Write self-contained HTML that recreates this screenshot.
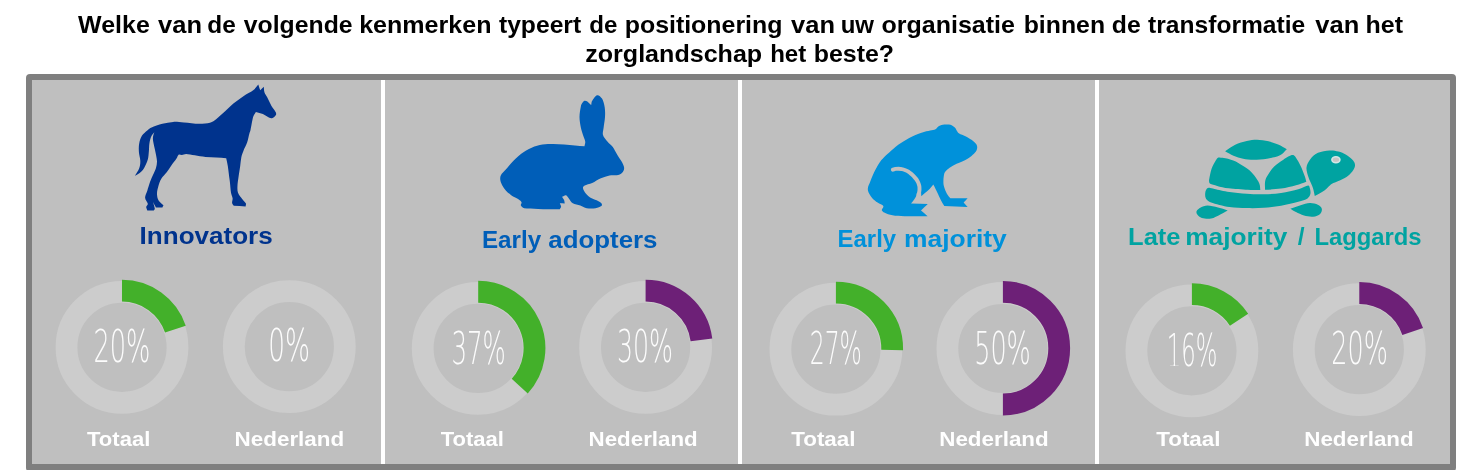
<!DOCTYPE html>
<html lang="nl"><head><meta charset="utf-8"><title>Positionering zorglandschap</title>
<style>
html,body{margin:0;padding:0;background:#fff;}
body{width:1481px;height:470px;overflow:hidden;position:relative;font-family:"Liberation Sans",sans-serif;}
svg{position:absolute;left:0;top:0;display:block}
.title{font:bold 24.3px "Liberation Sans",sans-serif;fill:#000}
.head{font:bold 24.5px "Liberation Sans",sans-serif}
.lab{font:bold 20.8px "Liberation Sans",sans-serif;fill:#fff}
.num{font:200 45.1px "DejaVu Sans Light","DejaVu Sans","Liberation Sans",sans-serif;fill:#fcfcfc}
</style></head><body>
<svg width="1481" height="470" viewBox="0 0 1481 470">
<rect x="26" y="74" width="1430" height="397.5" rx="4" fill="#7f7f7f"/>
<rect x="32" y="80" width="1418" height="384" fill="#bfbfbf"/>
<rect x="381" y="80" width="4" height="384" fill="#fff"/>
<rect x="738" y="80" width="4" height="384" fill="#fff"/>
<rect x="1095" y="80" width="4" height="384" fill="#fff"/>
<text class="title" y="32.6"><tspan x="78.14" textLength="71.67" lengthAdjust="spacingAndGlyphs">Welke</tspan> <tspan x="158.14" textLength="43.94" lengthAdjust="spacingAndGlyphs">van</tspan> <tspan x="207.29" textLength="28.47" lengthAdjust="spacingAndGlyphs">de</tspan> <tspan x="243.82" textLength="108.78" lengthAdjust="spacingAndGlyphs">volgende</tspan> <tspan x="359.18" textLength="132.32" lengthAdjust="spacingAndGlyphs">kenmerken</tspan> <tspan x="498.93" textLength="82.25" lengthAdjust="spacingAndGlyphs">typeert</tspan> <tspan x="589.24" textLength="28.10" lengthAdjust="spacingAndGlyphs">de</tspan> <tspan x="624.71" textLength="157.74" lengthAdjust="spacingAndGlyphs">positionering</tspan> <tspan x="791.14" textLength="43.94" lengthAdjust="spacingAndGlyphs">van</tspan> <tspan x="840.71" textLength="33.36" lengthAdjust="spacingAndGlyphs">uw</tspan> <tspan x="881.50" textLength="133.42" lengthAdjust="spacingAndGlyphs">organisatie</tspan> <tspan x="1023.71" textLength="81.37" lengthAdjust="spacingAndGlyphs">binnen</tspan> <tspan x="1111.82" textLength="28.89" lengthAdjust="spacingAndGlyphs">de</tspan> <tspan x="1148.14" textLength="157.04" lengthAdjust="spacingAndGlyphs">transformatie</tspan> <tspan x="1315.35" textLength="43.94" lengthAdjust="spacingAndGlyphs">van</tspan> <tspan x="1365.55" textLength="37.47" lengthAdjust="spacingAndGlyphs">het</tspan></text>
<text class="title" y="62.3"><tspan x="585.24" textLength="176.94" lengthAdjust="spacingAndGlyphs">zorglandschap</tspan> <tspan x="770.13" textLength="36.10" lengthAdjust="spacingAndGlyphs">het</tspan> <tspan x="813.76" textLength="80.32" lengthAdjust="spacingAndGlyphs">beste?</tspan></text>
<text class="head" y="243.7" fill="#00338d"><tspan x="139.62" textLength="133.12" lengthAdjust="spacingAndGlyphs">Innovators</tspan></text>
<text class="head" y="247.8" fill="#005eb8"><tspan x="481.88" textLength="59.22" lengthAdjust="spacingAndGlyphs">Early</tspan> <tspan x="548.28" textLength="109.20" lengthAdjust="spacingAndGlyphs">adopters</tspan></text>
<text class="head" y="247.0" fill="#0091da"><tspan x="837.62" textLength="58.46" lengthAdjust="spacingAndGlyphs">Early</tspan> <tspan x="904.00" textLength="102.72" lengthAdjust="spacingAndGlyphs">majority</tspan></text>
<text class="head" y="245.3" fill="#00a3a1"><tspan x="1128.12" textLength="52.36" lengthAdjust="spacingAndGlyphs">Late</tspan> <tspan x="1185.24" textLength="102.10" lengthAdjust="spacingAndGlyphs">majority</tspan> <tspan x="1297.75">/</tspan> <tspan x="1314.38" textLength="107.22" lengthAdjust="spacingAndGlyphs">Laggards</tspan></text>
<circle cx="122.0" cy="347.30" r="55.50" fill="none" stroke="#cccccc" stroke-width="21.80"/>
<path d="M122.00,290.70 A56.3,56.3 0 0 1 175.40,329.17" fill="none" stroke="#43b02a" stroke-width="21.800000000000004"/>
<text class="num" x="93.44" y="361.60" textLength="56.84" lengthAdjust="spacingAndGlyphs">20%</text>
<text class="lab" x="87.02" y="445.5" textLength="63.26" lengthAdjust="spacingAndGlyphs">Totaal</text>
<circle cx="289.3" cy="346.60" r="55.50" fill="none" stroke="#cccccc" stroke-width="21.80"/>

<text class="num" x="268.32" y="361.40" textLength="41.80" lengthAdjust="spacingAndGlyphs">0%</text>
<text class="lab" x="234.56" y="445.5" textLength="109.66" lengthAdjust="spacingAndGlyphs">Nederland</text>
<circle cx="478.2" cy="348.35" r="55.50" fill="none" stroke="#cccccc" stroke-width="21.80"/>
<path d="M478.20,291.75 A56.3,56.3 0 0 1 519.72,386.07" fill="none" stroke="#43b02a" stroke-width="21.800000000000004"/>
<text class="num" x="451.44" y="363.60" textLength="54.34" lengthAdjust="spacingAndGlyphs">37%</text>
<text class="lab" x="440.74" y="445.5" textLength="63.26" lengthAdjust="spacingAndGlyphs">Totaal</text>
<circle cx="645.6" cy="347.30" r="55.50" fill="none" stroke="#cccccc" stroke-width="21.80"/>
<path d="M645.60,290.70 A56.3,56.3 0 0 1 701.46,339.94" fill="none" stroke="#6d2077" stroke-width="21.800000000000004"/>
<text class="num" x="616.94" y="362.30" textLength="56.06" lengthAdjust="spacingAndGlyphs">30%</text>
<text class="lab" x="588.56" y="445.5" textLength="109.16" lengthAdjust="spacingAndGlyphs">Nederland</text>
<circle cx="835.9" cy="349.20" r="55.50" fill="none" stroke="#cccccc" stroke-width="21.80"/>
<path d="M835.90,292.60 A56.3,56.3 0 0 1 892.19,349.96" fill="none" stroke="#43b02a" stroke-width="21.800000000000004"/>
<text class="num" x="809.72" y="364.40" textLength="52.22" lengthAdjust="spacingAndGlyphs">27%</text>
<text class="lab" x="791.18" y="445.5" textLength="64.38" lengthAdjust="spacingAndGlyphs">Totaal</text>
<circle cx="1002.9" cy="348.50" r="55.50" fill="none" stroke="#cccccc" stroke-width="21.80"/>
<path d="M1002.90,291.90 A56.3,56.3 0 0 1 1002.90,404.50" fill="none" stroke="#6d2077" stroke-width="21.800000000000004"/>
<text class="num" x="974.16" y="363.60" textLength="56.68" lengthAdjust="spacingAndGlyphs">50%</text>
<text class="lab" x="939.28" y="445.5" textLength="109.44" lengthAdjust="spacingAndGlyphs">Nederland</text>
<circle cx="1191.9" cy="350.80" r="55.50" fill="none" stroke="#cccccc" stroke-width="21.80"/>
<path d="M1191.90,294.20 A56.3,56.3 0 0 1 1239.05,319.74" fill="none" stroke="#43b02a" stroke-width="21.800000000000004"/>
<text class="num" x="1166.66" y="365.50" textLength="50.62" lengthAdjust="spacingAndGlyphs">16%</text>
<text class="lab" x="1156.18" y="445.5" textLength="64.38" lengthAdjust="spacingAndGlyphs">Totaal</text>
<circle cx="1359.3" cy="349.60" r="55.50" fill="none" stroke="#cccccc" stroke-width="21.80"/>
<path d="M1359.30,293.00 A56.3,56.3 0 0 1 1412.69,331.43" fill="none" stroke="#6d2077" stroke-width="21.800000000000004"/>
<text class="num" x="1331.28" y="364.40" textLength="56.56" lengthAdjust="spacingAndGlyphs">20%</text>
<text class="lab" x="1304.28" y="445.5" textLength="109.44" lengthAdjust="spacingAndGlyphs">Nederland</text>
<rect x="1169" y="362.3" width="4.65" height="3.4" fill="#bfbfbf"/><rect x="1175.05" y="362.3" width="4.6" height="3.4" fill="#bfbfbf"/>
<path d="M258.3,84.5C258.9,86.4 259.6,88.4 260.2,90.3C261.4,89.1 262.6,87.9 263.8,86.7C264.0,88.6 263.9,90.6 264.5,92.4C265.1,94.2 266.2,95.3 267.2,97.3C268.4,99.5 270.1,103.5 271.5,105.9C272.9,108.3 274.9,110.4 275.6,111.9C276.2,113.1 276.4,114.1 275.9,115.1C275.4,116.1 273.7,117.5 272.6,118.0C271.5,118.5 270.6,118.3 269.4,117.8C267.8,117.1 265.1,115.0 262.9,114.0C260.6,113.0 258.2,112.6 255.9,111.9C255.0,113.5 253.8,114.6 253.2,116.7C252.3,119.7 251.1,127.2 250.5,130.0C250.2,131.5 249.8,132.1 249.4,133.6C248.8,135.7 248.2,139.4 247.2,142.3C246.2,145.2 244.4,148.4 243.4,150.9C242.4,153.4 241.8,154.9 241.3,157.4C240.8,159.9 240.6,162.8 240.2,166.0C239.8,169.2 239.0,173.4 238.6,176.6C238.2,179.8 237.6,182.6 237.5,185.3C237.4,188.0 237.2,190.5 238.0,192.8C238.8,195.1 241.1,197.5 242.4,199.3C243.8,201.1 244.9,202.2 246.1,203.7C245.9,204.6 245.8,205.5 245.6,206.4C241.6,206.2 237.7,206.0 233.7,205.8C233.2,204.9 232.3,204.3 232.1,203.1C231.9,201.8 232.8,200.0 232.6,198.3C232.4,196.6 231.4,195.1 231.0,192.8C230.6,190.1 230.2,185.1 229.9,182.0C229.6,179.0 229.2,177.2 228.9,174.5C228.6,171.8 228.2,168.7 227.8,166.0C227.4,163.3 226.7,160.8 226.2,158.2C222.9,157.9 219.8,157.6 216.4,157.4C213.0,157.2 209.2,157.2 205.6,156.9C202.0,156.6 198.0,155.8 194.8,155.3C191.6,154.8 188.3,154.1 186.2,154.0C184.4,154.0 183.2,154.9 181.9,155.0C180.6,155.1 179.5,154.1 178.6,154.7C177.7,155.3 177.5,157.1 176.5,158.5C175.2,160.4 172.6,163.7 171.0,166.0C169.4,168.3 168.3,170.2 166.7,172.3C165.1,174.4 162.7,176.5 161.3,178.8C159.9,181.2 159.0,183.9 158.3,186.4C157.6,188.9 156.9,191.6 157.0,193.9C157.1,196.2 157.5,198.5 158.6,200.4C159.7,202.3 161.9,203.7 163.5,205.3C163.1,206.0 162.8,206.7 162.4,207.4C160.2,207.4 158.1,207.4 155.9,207.4C155.0,205.8 153.8,203.9 153.2,202.6C152.6,201.3 152.5,200.4 152.1,199.3C153.0,202.4 154.5,206.7 154.8,208.5C154.9,209.3 154.1,209.8 153.8,210.4C151.6,210.4 149.5,210.4 147.3,210.4C146.9,209.2 146.1,208.0 146.2,206.9C146.3,205.8 148.0,205.1 147.8,203.7C147.6,202.2 145.2,199.9 145.1,197.7C145.0,195.5 146.5,193.3 147.3,190.7C148.1,188.1 149.0,184.7 150.0,182.0C151.0,179.3 152.2,176.8 153.2,174.5C154.2,172.2 155.3,170.3 155.9,168.2C156.5,166.1 157.0,164.0 157.0,161.7C157.0,159.4 156.4,157.1 155.9,154.2C155.4,151.3 154.3,147.1 153.8,144.4C153.3,141.9 152.8,140.0 152.9,138.0C153.0,136.0 153.7,133.9 154.3,132.6C154.9,131.3 155.8,130.8 156.5,129.9C154.9,131.9 152.8,133.6 151.6,135.8C150.4,138.1 149.8,140.9 149.4,143.4C149.0,145.9 149.2,148.2 148.9,150.9C148.6,153.6 148.6,156.7 147.8,159.6C147.0,162.5 145.3,166.0 144.0,168.2C142.7,170.4 141.2,171.7 139.7,173.0C138.2,174.3 136.5,174.9 134.9,175.8C136.3,173.3 138.3,170.7 139.2,168.2C140.1,165.7 140.4,163.4 140.3,160.7C140.2,158.0 139.1,154.9 138.9,152.0C138.7,149.1 138.7,146.1 139.2,143.4C139.7,140.7 140.6,138.0 141.9,135.8C143.2,133.6 145.7,131.8 147.3,130.4C148.9,129.1 149.7,128.3 151.6,127.5C154.1,126.4 158.8,124.7 162.4,123.8C166.0,122.9 169.6,122.1 173.2,121.9C176.8,121.7 179.7,122.2 184.0,122.5C188.3,122.8 194.8,123.8 199.1,123.8C203.4,123.8 207.1,123.5 210.0,122.7C212.9,121.9 214.0,120.7 216.4,118.9C218.9,117.0 222.2,113.9 225.1,111.3C228.0,108.7 230.6,105.7 233.7,103.2C236.8,100.7 240.2,98.4 243.4,96.2C246.7,94.0 250.7,92.2 253.2,90.3C255.6,88.4 256.6,86.4 258.3,84.5Z" fill="#00338d"/>
<path d="M582.4,102.8C583.0,101.9 583.8,101.0 584.6,100.7C585.4,100.5 586.2,100.9 587.0,101.3C587.8,101.7 588.5,102.6 589.2,103.2C589.9,103.8 590.5,104.5 591.2,105.1C591.5,103.7 591.3,102.3 592.2,100.8C593.2,99.2 595.5,95.6 597.1,95.2C598.7,94.8 600.7,96.6 602.0,98.6C603.3,100.6 604.2,104.2 604.7,107.3C605.2,110.4 605.2,113.6 605.0,117.0C604.8,120.4 603.9,124.8 603.6,127.8C603.3,130.7 602.4,132.7 603.0,135.0C603.6,137.3 605.8,139.5 607.4,141.5C609.0,143.5 611.2,144.8 612.8,146.9C614.4,149.1 615.6,151.9 617.1,154.4C618.6,156.9 620.7,159.8 621.9,162.0C623.0,164.1 623.9,165.8 624.1,167.4C624.3,169.0 624.0,170.4 623.0,171.7C622.0,173.0 620.4,174.4 618.2,175.0C616.0,175.7 612.4,175.0 609.5,175.6C606.6,176.2 603.8,177.1 600.9,178.3C598.0,179.5 594.9,181.8 592.2,183.0C589.5,184.2 586.2,184.6 584.7,185.5C583.6,186.1 582.8,186.9 583.0,188.2C583.2,189.5 584.6,192.1 585.8,193.6C587.0,195.1 588.3,196.3 590.1,197.4C591.9,198.5 594.7,199.3 596.6,200.3C598.5,201.3 600.6,202.4 601.4,203.3C602.1,204.1 602.2,205.3 601.4,206.0C600.4,206.8 597.9,207.8 595.5,208.2C593.1,208.6 589.3,208.6 586.8,208.2C584.3,207.8 582.6,206.3 580.3,205.5C578.0,204.7 574.8,204.6 572.8,203.3C570.8,202.0 569.7,199.2 568.5,197.9C567.5,196.7 566.9,195.4 565.8,195.2C564.7,195.0 563.3,196.3 562.0,196.8C562.7,197.9 563.6,199.0 564.1,200.1C564.6,201.2 564.5,202.4 564.7,203.5C563.1,203.4 561.4,203.4 559.8,203.3C560.2,204.4 561.1,205.6 561.1,206.6C561.1,207.6 560.2,208.4 559.8,209.3C552.6,209.2 544.1,209.1 538.2,208.9C532.6,208.7 527.1,208.8 524.2,208.2C522.5,207.9 521.4,206.5 520.9,205.5C520.4,204.5 521.9,203.3 521.5,202.3C521.1,201.3 520.1,200.4 518.8,199.5C517.1,198.3 513.4,196.7 511.2,195.2C509.0,193.7 507.2,191.9 505.8,190.4C504.4,188.9 503.5,187.6 502.6,186.0C501.7,184.4 500.7,182.4 500.4,180.6C500.1,178.8 500.0,177.0 500.9,175.2C501.8,173.4 503.9,171.8 505.8,169.6C507.7,167.4 509.8,164.6 512.3,162.0C514.8,159.4 517.7,156.3 520.9,153.9C524.1,151.5 528.1,149.3 531.7,147.7C535.3,146.1 538.9,145.1 542.5,144.5C546.1,143.9 549.7,143.9 553.3,143.9C556.9,143.9 560.5,144.2 564.1,144.5C567.7,144.8 571.6,145.3 575.0,145.6C578.4,145.9 581.3,146.1 584.5,146.3C584.7,144.7 585.5,143.4 585.2,141.5C585.0,139.6 583.7,137.3 583.0,135.0C582.3,132.7 581.5,130.7 580.9,127.8C580.3,124.8 579.5,120.6 579.5,117.0C579.5,113.4 580.4,108.6 580.9,106.2C581.2,104.7 581.8,103.7 582.4,102.8Z" fill="#005eb8"/>
<path d="M944.3,124.6C946.2,124.4 948.6,124.3 950.4,124.8C952.1,125.3 953.7,126.5 954.8,127.5C955.9,128.5 956.3,130.0 957.0,131.0C957.7,132.0 958.0,132.9 959.2,133.6C960.6,134.5 963.4,135.2 965.4,136.2C967.4,137.2 969.8,138.6 971.5,139.8C973.2,141.1 974.9,142.5 975.9,143.7C976.8,144.9 977.2,145.9 977.2,147.2C977.2,148.5 976.9,150.1 975.9,151.6C974.9,153.1 973.2,154.6 971.5,156.0C969.8,157.4 967.9,158.6 965.4,159.9C962.9,161.2 959.2,162.5 956.6,163.8C954.0,165.1 951.5,166.4 949.6,167.7C947.7,169.0 946.2,170.3 945.2,171.7C944.2,173.1 944.1,174.5 943.8,176.1C943.5,177.7 943.4,179.6 943.4,181.3C943.4,183.0 943.4,184.5 944.0,186.5C944.6,188.6 945.8,191.8 946.9,193.7C948.0,195.6 949.2,196.7 950.4,198.2C956.1,198.2 961.9,198.2 967.6,198.2C966.3,199.7 964.9,201.1 963.6,202.6C964.9,204.1 966.3,205.5 967.6,207.0C959.8,206.7 952.1,206.4 944.3,206.1C943.1,204.0 942.0,202.2 940.8,199.9C939.6,197.6 938.4,194.7 937.3,192.5C936.2,190.3 935.1,187.8 934.4,186.5C934.0,185.6 933.7,185.1 933.3,184.4C931.7,186.3 930.5,188.1 928.5,190.1C926.5,192.1 923.5,194.3 921.0,196.4C923.2,199.0 925.4,201.7 927.6,204.3C925.4,206.4 923.2,208.4 921.0,210.5C923.2,212.4 925.4,214.3 927.6,216.2C921.2,216.2 913.7,216.3 908.3,216.2C903.0,216.1 898.8,216.1 895.1,215.7C891.5,215.3 888.5,214.4 886.3,213.5C884.3,212.7 882.4,211.7 881.9,210.5C881.4,209.3 884.0,207.4 883.3,206.1C882.6,204.8 879.4,203.9 877.6,202.6C875.8,201.3 873.8,199.9 872.3,198.2C870.8,196.5 869.3,194.2 868.6,192.5C867.9,190.8 867.7,189.6 867.9,188.0C868.1,186.4 868.9,185.0 869.7,183.1C870.7,180.5 872.4,176.0 874.0,172.6C875.6,169.2 877.7,165.4 879.3,162.9C880.8,160.6 882.0,159.4 883.6,157.7C885.2,156.0 886.8,154.6 889.0,152.7C891.5,150.5 895.2,147.0 898.6,144.6C902.0,142.2 905.4,140.0 909.2,138.0C913.0,136.0 918.0,133.9 921.5,132.7C924.9,131.5 927.9,131.1 930.2,130.5C932.3,130.0 934.0,129.9 935.5,129.2C937.0,128.5 937.5,126.9 939.0,126.1C940.5,125.3 942.4,124.8 944.3,124.6Z" fill="#0091da"/>
<path d="M921.3,195.8C923.9,198.5 926.4,201.3 929.0,204.0C923.0,203.9 917.0,203.7 911.0,203.6C912.0,202.3 913.0,201.1 914.0,199.8C914.7,198.7 915.3,197.5 916.0,196.4C916.3,195.3 916.6,194.1 916.9,193.0C918.3,193.0 919.7,193.0 921.1,193.0C921.2,193.9 921.2,194.9 921.3,195.8Z" fill="#bfbfbf"/>
<path d="M892.8,169.7C893.7,169.4 894.5,169.1 895.5,168.9C896.5,168.7 897.5,168.7 898.6,168.7C899.7,168.7 900.9,168.8 902.0,169.1C903.1,169.3 904.4,169.8 905.4,170.2C906.4,170.6 907.4,171.1 908.3,171.7C909.2,172.3 910.0,172.9 910.9,173.6C911.8,174.3 912.6,175.1 913.4,175.9C914.2,176.7 914.9,177.6 915.6,178.4C916.3,179.2 916.9,180.1 917.4,181.0C917.9,181.9 918.4,182.9 918.7,183.8C919.0,184.7 919.3,185.6 919.4,186.5C919.5,187.4 919.5,188.4 919.5,189.3C919.5,190.2 919.4,191.1 919.2,192.0C919.1,192.9 918.8,193.7 918.6,194.5" fill="none" stroke="#bfbfbf" stroke-width="3.9" stroke-linecap="round"/>
<path d="M1225.1,151.3C1228.5,149.1 1231.6,146.5 1235.2,144.8C1238.8,143.1 1243.1,141.8 1246.7,141.0C1250.3,140.2 1253.4,139.8 1257.0,139.8C1260.6,139.9 1264.9,140.5 1268.5,141.3C1272.1,142.1 1275.8,143.5 1278.8,144.8C1281.8,146.1 1284.1,147.8 1286.8,149.3C1284.5,151.3 1283.3,153.7 1280.0,155.2C1276.7,156.8 1271.4,157.9 1267.0,158.7C1262.6,159.5 1257.6,159.8 1253.6,159.8C1249.6,159.8 1246.4,159.4 1243.1,158.7C1239.8,158.0 1236.5,157.0 1233.5,155.8C1230.5,154.6 1227.9,152.8 1225.1,151.3Z M1218.4,157.6C1219.6,157.1 1220.9,157.6 1222.5,157.8C1224.2,158.1 1226.3,158.3 1228.7,159.1C1231.3,159.9 1235.1,161.2 1238.3,162.9C1241.5,164.6 1245.1,166.9 1247.8,169.1C1250.5,171.2 1252.6,173.4 1254.5,175.8C1256.4,178.2 1258.3,181.2 1259.3,183.5C1260.3,185.8 1260.0,187.8 1260.3,189.9C1256.1,189.9 1252.8,190.1 1247.8,189.8C1242.5,189.5 1233.8,189.0 1228.7,188.3C1224.0,187.7 1220.3,186.7 1217.2,185.9C1214.4,185.2 1211.6,184.5 1210.2,183.8C1209.3,183.3 1209.2,182.3 1209.1,181.5C1208.9,180.7 1209.1,179.8 1209.3,178.7C1209.7,176.6 1210.5,172.1 1211.5,169.1C1212.5,166.1 1214.4,162.7 1215.6,160.8C1216.5,159.3 1217.2,158.1 1218.4,157.6Z M1292.6,155.1C1294.9,155.1 1295.7,157.6 1297.2,159.7C1298.7,161.9 1300.4,165.3 1301.7,168.3C1303.0,171.3 1304.4,175.3 1305.2,177.5C1305.8,179.1 1305.9,180.3 1306.3,181.7C1302.9,182.9 1300.2,184.1 1296.0,185.2C1291.8,186.3 1286.3,187.8 1281.1,188.6C1275.9,189.4 1270.4,189.4 1265.0,189.8C1265.1,186.8 1264.6,183.5 1265.2,180.9C1265.8,178.3 1267.0,176.4 1268.5,174.0C1270.0,171.6 1271.7,169.0 1274.2,166.6C1276.7,164.2 1280.3,161.6 1283.4,159.7C1286.5,157.8 1290.3,155.1 1292.6,155.1Z M1209.3,187.8C1210.5,187.9 1212.4,188.6 1214.5,189.0C1217.8,189.7 1224.0,191.3 1229.4,192.1C1234.8,192.9 1241.0,193.4 1246.7,193.8C1252.5,194.2 1258.2,194.5 1263.9,194.3C1269.6,194.2 1275.4,193.8 1281.1,192.9C1286.8,192.1 1293.8,190.4 1298.3,189.2C1302.3,188.1 1306.2,185.7 1308.1,185.5C1309.3,185.4 1309.5,186.8 1309.8,188.0C1310.2,189.4 1310.8,192.1 1310.4,193.8C1310.0,195.5 1309.3,197.2 1307.5,198.4C1305.5,199.7 1302.1,200.7 1298.3,201.8C1293.9,203.0 1286.8,204.8 1281.1,205.8C1275.4,206.8 1269.6,207.4 1263.9,207.8C1258.2,208.2 1252.5,208.2 1246.7,208.1C1241.0,208.0 1235.3,207.9 1229.4,207.0C1223.5,206.1 1215.0,203.8 1211.1,202.4C1208.6,201.5 1206.9,200.0 1205.9,198.4C1204.9,196.8 1205.1,194.2 1205.3,192.6C1205.5,191.0 1206.3,189.4 1207.0,188.6C1207.6,187.9 1208.3,187.7 1209.3,187.8Z M1314.8,195.9C1314.4,194.1 1314.0,192.2 1313.6,190.5C1313.2,188.8 1312.9,187.8 1312.2,186.0C1311.3,183.8 1309.4,180.1 1308.4,177.0C1307.5,173.9 1306.2,170.5 1306.5,167.5C1306.8,164.5 1308.4,161.6 1310.3,159.2C1312.2,156.8 1314.8,154.2 1318.0,152.8C1321.2,151.4 1326.1,150.7 1329.5,150.5C1332.9,150.3 1335.6,150.8 1338.4,151.5C1341.2,152.2 1343.6,153.2 1346.1,154.7C1348.5,156.2 1351.6,158.6 1353.1,160.4C1354.5,162.1 1355.1,163.7 1355.0,165.5C1354.9,167.3 1354.0,169.3 1352.5,171.3C1351.0,173.3 1348.4,175.7 1346.1,177.3C1343.8,178.9 1340.8,180.0 1338.4,181.1C1336.1,182.2 1333.7,182.8 1332.0,183.8C1330.3,184.8 1329.3,186.1 1328.0,187.2C1326.7,188.3 1325.8,189.4 1324.4,190.4C1323.0,191.4 1321.1,192.5 1319.5,193.4C1317.9,194.3 1316.4,195.1 1314.8,195.9Z M1196.7,211.0C1197.3,209.8 1198.9,208.4 1200.7,207.5C1202.5,206.6 1204.7,205.5 1207.6,205.5C1210.5,205.5 1214.7,206.7 1218.0,207.5C1221.3,208.3 1224.5,209.4 1227.7,210.4C1225.2,211.7 1223.1,213.1 1220.3,214.4C1217.5,215.8 1214.2,217.9 1211.1,218.5C1208.0,219.1 1204.2,218.6 1201.9,217.9C1199.7,217.2 1198.2,215.6 1197.3,214.4C1196.5,213.3 1196.1,212.2 1196.7,211.0Z M1290.3,208.7C1293.7,207.6 1297.3,206.2 1300.6,205.3C1303.8,204.4 1306.9,203.1 1309.8,203.0C1312.7,202.9 1315.8,203.8 1317.8,204.7C1319.8,205.6 1321.4,207.2 1321.8,208.7C1322.2,210.2 1321.5,212.6 1320.1,213.9C1318.7,215.2 1315.9,216.4 1313.2,216.7C1310.5,217.0 1306.9,216.4 1304.0,215.6C1301.1,214.8 1298.3,213.2 1296.0,212.1C1293.7,210.9 1292.2,209.8 1290.3,208.7Z" fill="#00a3a1"/>
<ellipse cx="1335.9" cy="159.8" rx="4.0" ry="3.0" fill="#c8c4c4" stroke="#d3e7e6" stroke-width="1.6"/>
</svg></body></html>
